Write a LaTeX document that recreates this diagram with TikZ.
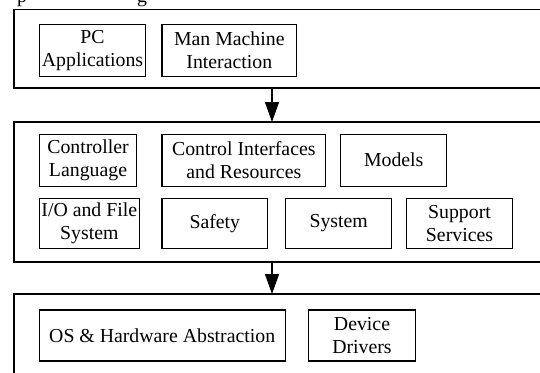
\documentclass[tikz,border=0pt]{standalone}
\usepackage{fontspec}
\setmainfont{Liberation Serif}
\usetikzlibrary{arrows.meta}
\begin{document}
\begin{tikzpicture}[x=1pt,y=-1pt,
  outerbox/.style={draw,line width=1.5pt,inner sep=0pt,outer sep=0pt},
  inbox/.style={draw,line width=1.1pt,inner sep=0pt,outer sep=0pt,align=center,
    font=\fontsize{19.8}{23}\selectfont},
  arr/.style={line width=1.4pt,-{Triangle[length=20pt,width=14pt]}},
  frag/.style={inner sep=0pt,anchor=base,font=\fontsize{19.8}{23}\selectfont}]
\useasboundingbox (0,0) rectangle (540,372);
\clip (0,0) rectangle (540,372);
% cut-off caption fragments
\node[frag] (f1) at (22,2.6) {p};
\node[frag] (f2) at (142,2.6) {g};
% layers
\node[outerbox,minimum width=546pt,minimum height=78.5pt] (L1) at (287,48.75) {};
\node[outerbox,minimum width=546pt,minimum height=140pt] (L2) at (287,192) {};
\node[outerbox,minimum width=546pt,minimum height=106pt] (L3) at (287,347) {};
% layer 1
\node[inbox,minimum width=106.4pt,minimum height=51.7pt] (pc) at (92.5,50.2) {PC\\Applications};
\node[inbox,minimum width=134.7pt,minimum height=51.7pt] (mmi) at (229.3,50.2) {Man Machine\\Interaction};
% layer 2
\node[inbox,minimum width=97.4pt,minimum height=51.7pt] (cl) at (88,160.2) {Controller\\Language};
\node[inbox,minimum width=163.7pt,minimum height=51.7pt] (cir) at (243.8,160.2) {Control Interfaces\\and Resources};
\node[inbox,minimum width=106pt,minimum height=51.7pt] (mod) at (393.7,160.2) {Models};
\node[inbox,minimum width=100pt,minimum height=50.3pt] (io) at (89.3,223.2) {I/O and File\\System};
\node[inbox,minimum width=105.7pt,minimum height=50.3pt] (saf) at (214.8,223.2) {Safety};
\node[inbox,minimum width=106pt,minimum height=50.3pt] (sys) at (338.7,223.2) {System};
\node[inbox,minimum width=105.6pt,minimum height=50.3pt] (sup) at (459.5,223.2) {Support\\Services};
% layer 3
\node[inbox,minimum width=245.7pt,minimum height=51pt] (os) at (162.2,335.5) {OS \& Hardware Abstraction};
\node[inbox,minimum width=107.4pt,minimum height=51pt] (dd) at (362,335.5) {Device\\Drivers};
% arrows
\draw[arr] (272,0 |- L1.south) -- (272,0 |- L2.north);
\draw[arr] (272,0 |- L2.south) -- (272,0 |- L3.north);
\end{tikzpicture}
\end{document}
